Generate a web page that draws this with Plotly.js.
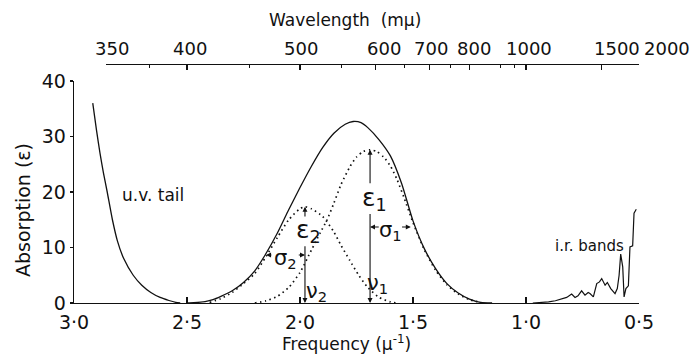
<!DOCTYPE html>
<html>
<head>
<meta charset="utf-8">
<script src="https://cdn.plot.ly/plotly-3.0.1.min.js"></script>
<style>html,body{margin:0;padding:0;background:#fff;}#chart{width:690px;height:357px;}</style>
</head>
<body>
<div id="chart"></div>
<script>
// ---- data (frequency in μ^-1, absorption ε) ----
const uvFreq = [2.917, 2.90, 2.885, 2.87, 2.853, 2.83, 2.808, 2.78, 2.738, 2.70, 2.66, 2.619, 2.58, 2.55, 2.53];
const uvAbs  = [36, 31, 27, 23.5, 20, 15.0, 11.2, 8.0, 5.0, 3.2, 1.9, 1.0, 0.45, 0.12, 0];

const envFreq = [2.50, 2.47, 2.42, 2.385, 2.35, 2.30, 2.25, 2.20, 2.155, 2.10, 2.05, 2.00, 1.95, 1.90, 1.85, 1.80, 1.765, 1.73, 1.70, 1.65, 1.60, 1.55, 1.50, 1.45, 1.40, 1.35, 1.30, 1.25, 1.20, 1.15];
const envAbs  = [0, 0.05, 0.25, 0.6, 1.2, 2.2, 3.7, 5.8, 8.6, 12.6, 16.8, 20.8, 24.6, 28.0, 30.6, 32.2, 32.7, 32.5, 31.6, 29.4, 26.5, 21.5, 14.8, 9.8, 6.2, 3.5, 1.8, 0.7, 0.1, 0];

const band1Freq = [2.20, 2.15, 2.10, 2.05, 2.00, 1.95, 1.91, 1.88, 1.85, 1.82, 1.78, 1.75, 1.72, 1.69, 1.66, 1.63, 1.60, 1.57, 1.54, 1.50, 1.45, 1.40, 1.35, 1.30, 1.25, 1.20];
const band1Abs  = [0, 0.4, 1.2, 2.8, 5.5, 9.5, 12.7, 15.0, 18.0, 21.2, 24.5, 26.3, 27.3, 27.6, 27.3, 26.3, 24.7, 22.2, 19.0, 14.5, 9.6, 5.9, 3.3, 1.6, 0.6, 0.1];

const band2Freq = [2.40, 2.35, 2.30, 2.25, 2.20, 2.15, 2.10, 2.05, 2.00, 1.978, 1.95, 1.90, 1.85, 1.82, 1.78, 1.74, 1.70, 1.65, 1.60, 1.57];
const band2Abs  = [0.1, 0.8, 1.9, 3.5, 5.3, 8.4, 11.8, 15.0, 17.0, 17.35, 17.0, 15.6, 12.8, 10.5, 7.7, 5.0, 2.8, 1.0, 0.2, 0];

const irFreq = [0.97, 0.93, 0.90, 0.87, 0.85, 0.82, 0.798, 0.783, 0.77, 0.754, 0.739, 0.725, 0.717, 0.702, 0.687, 0.675, 0.665, 0.650, 0.640, 0.625, 0.606, 0.596, 0.588, 0.581, 0.572, 0.566, 0.558, 0.547, 0.540, 0.528, 0.522, 0.512];
const irAbs  = [0, 0.1, 0.2, 0.4, 0.6, 1.0, 1.6, 1.0, 1.3, 2.2, 1.4, 1.9, 1.7, 1.1, 3.5, 3.8, 4.4, 3.2, 3.7, 2.6, 1.7, 2.6, 5.0, 8.8, 6.5, 1.1, 2.6, 3.1, 10.1, 10.3, 16.2, 16.9];

// band parameters
const nu1 = 1.69, eps1 = 27.6, sigma1 = 0.18;
const nu2 = 1.978, eps2 = 17.35, sigma2 = 0.172;

// axes ticks
const freqTicks = [3.0, 2.5, 2.0, 1.5, 1.0, 0.5];
const freqTickText = ['3·0', '2·5', '2·0', '1·5', '1·0', '0·5'];
const absTicks = [0, 10, 20, 30, 40];
const wavelengths = [350, 400, 500, 600, 700, 800, 1000, 1500, 2000];
const wavelengthMinor = [375, 450, 550, 650, 750, 900, 950];

// ---- build ----
const toFreq = wl => 1000 / wl;
const ink = '#111';
const F = 'DejaVu Sans';
const dotted = {color: ink, width: 1.7, dash: '1.5px,3.5px', shape: 'spline', smoothing: 0.6};

const traces = [
  {x: uvFreq, y: uvAbs, mode: 'lines', line: {color: ink, width: 1.3, shape: 'spline', smoothing: 0.6}, hoverinfo: 'skip'},
  {x: envFreq, y: envAbs, mode: 'lines', line: {color: ink, width: 1.3, shape: 'spline', smoothing: 0.6}, hoverinfo: 'skip'},
  {x: band1Freq, y: band1Abs, mode: 'lines', line: dotted, hoverinfo: 'skip'},
  {x: band2Freq, y: band2Abs, mode: 'lines', line: dotted, hoverinfo: 'skip'},
  {x: irFreq, y: irAbs, mode: 'lines', line: {color: ink, width: 1.2}, hoverinfo: 'skip'},
  {x: [toFreq(wavelengths[0]), toFreq(wavelengths[wavelengths.length-1])], y: [0, 0], xaxis: 'x2', yaxis: 'y', mode: 'markers', marker: {opacity: 0}, hoverinfo: 'skip'}
];

const xMin = 0.5, xMax = 3.0;
const x2Start = (xMax - toFreq(wavelengths[0])) / (xMax - xMin);
const plotH = 239; // px height of paper area between margins

function arrow(xh, yh, xt, yt) {
  return {x: xh, y: yh, ax: xt, ay: yt, xref: 'x', yref: 'y', axref: 'x', ayref: 'y',
    text: '', showarrow: true, arrowhead: 2, arrowsize: 0.9, arrowwidth: 1.1, arrowcolor: ink, standoff: 0, startstandoff: 0};
}
function label(txt, x, y, size, opts) {
  return Object.assign({x: x, y: y, xref: 'x', yref: 'y', text: txt, showarrow: false,
    font: {family: F, size: size, color: ink}}, opts || {});
}

const annotations = [
  // band 1
  arrow(nu1, eps1, nu1, 21.3),
  arrow(nu1, 0, nu1, 16.3),
  label('ε<sub>1</sub>', nu1, 18.8, 25, {xshift: 4}),
  arrow(nu1, 13.7, nu1 - 0.045, 13.7),
  arrow(nu1 - sigma1, 13.7, nu1 - sigma1 + 0.045, 13.7),
  label('σ<sub>1</sub>', nu1 - sigma1 / 2, 13.7, 21, {yshift: -4}),
  label('ν<sub>1</sub>', nu1 - 0.035, 3.5, 21),
  // band 2
  arrow(nu2, eps2, nu2, 15.3),
  arrow(nu2, 0, nu2, 10.5),
  label('ε<sub>2</sub>', nu2, 12.9, 25, {xshift: 4}),
  arrow(nu2 + sigma2, 8.65, nu2 + sigma2 - 0.03, 8.65),
  arrow(nu2, 8.65, nu2 + 0.034, 8.65),
  label('σ<sub>2</sub>', nu2 + sigma2 / 2, 8.65, 21, {yshift: -4}),
  label('ν<sub>2</sub>', nu2 - 0.053, 2.0, 21),
  // region labels
  label('u.v. tail', 2.65, 19.5, 17),
  label('i.r. bands', 0.72, 10.3, 15),
  // axis titles
  {x: (xMax - 2.0) / (xMax - xMin) + 0.08, y: 1 + 44 / plotH, xref: 'paper', yref: 'paper', xanchor: 'center', yanchor: 'middle',
   text: 'Wavelength\u00a0 (mμ)', showarrow: false, font: {family: F, size: 17, color: ink}},
  {x: 0.483, y: -40 / plotH, xref: 'paper', yref: 'paper', xanchor: 'center', yanchor: 'middle',
   text: 'Frequency (μ<sup>-1</sup>)', showarrow: false, font: {family: F, size: 17, color: ink}},
  {x: -51 / 565, y: 93 / plotH, xref: 'paper', yref: 'paper', xanchor: 'center', yanchor: 'middle', textangle: -90,
   text: 'Absorption (ε)', showarrow: false, font: {family: F, size: 19, color: ink}}
];
const topShift = [6, 3, 1, 9, 2, 4, 3, 16, 28];
wavelengths.forEach((wl, i) => {
  annotations.push({x: toFreq(wl), y: 1, xref: 'x', yref: 'paper', xanchor: 'center', yanchor: 'bottom', yshift: 3, xshift: topShift[i],
    text: String(wl), showarrow: false, font: {family: F, size: 18, color: ink}});
});

const axisCommon = {showline: true, linecolor: ink, linewidth: 1.3, showgrid: false, zeroline: false, tickcolor: ink, tickwidth: 1.2, automargin: false};

const layout = {
  width: 690, height: 357,
  margin: {l: 74, r: 51, t: 64, b: 54},
  paper_bgcolor: '#fff', plot_bgcolor: 'rgba(0,0,0,0)',
  showlegend: false,
  font: {family: F, size: 19, color: ink},
  xaxis: Object.assign({}, axisCommon, {
    range: [xMax, xMin], tickmode: 'array', tickvals: freqTicks, ticktext: freqTickText,
    ticks: 'inside', ticklen: 6, ticklabelstandoff: 2,
    tickfont: {family: F, size: 19, color: ink}
  }),
  yaxis: Object.assign({}, axisCommon, {
    domain: [0, 222 / plotH], range: [0, 40], tickmode: 'array', tickvals: absTicks,
    ticks: 'outside', ticklen: 3,
    tickfont: {family: F, size: 19, color: ink}
  }),
  xaxis2: Object.assign({}, axisCommon, {
    domain: [x2Start, 1], range: [toFreq(wavelengths[0]), xMin], anchor: 'free', position: 1, side: 'top',
    tickmode: 'array', tickvals: wavelengths.map(toFreq), ticks: 'inside', ticklen: 5, showticklabels: false,
    minor: {tickmode: 'array', tickvals: wavelengthMinor.map(toFreq), ticks: 'inside', ticklen: 3, tickcolor: ink, tickwidth: 1}
  }),
  annotations: annotations
};

Plotly.newPlot('chart', traces, layout, {staticPlot: true, displayModeBar: false});
</script>
</body>
</html>
